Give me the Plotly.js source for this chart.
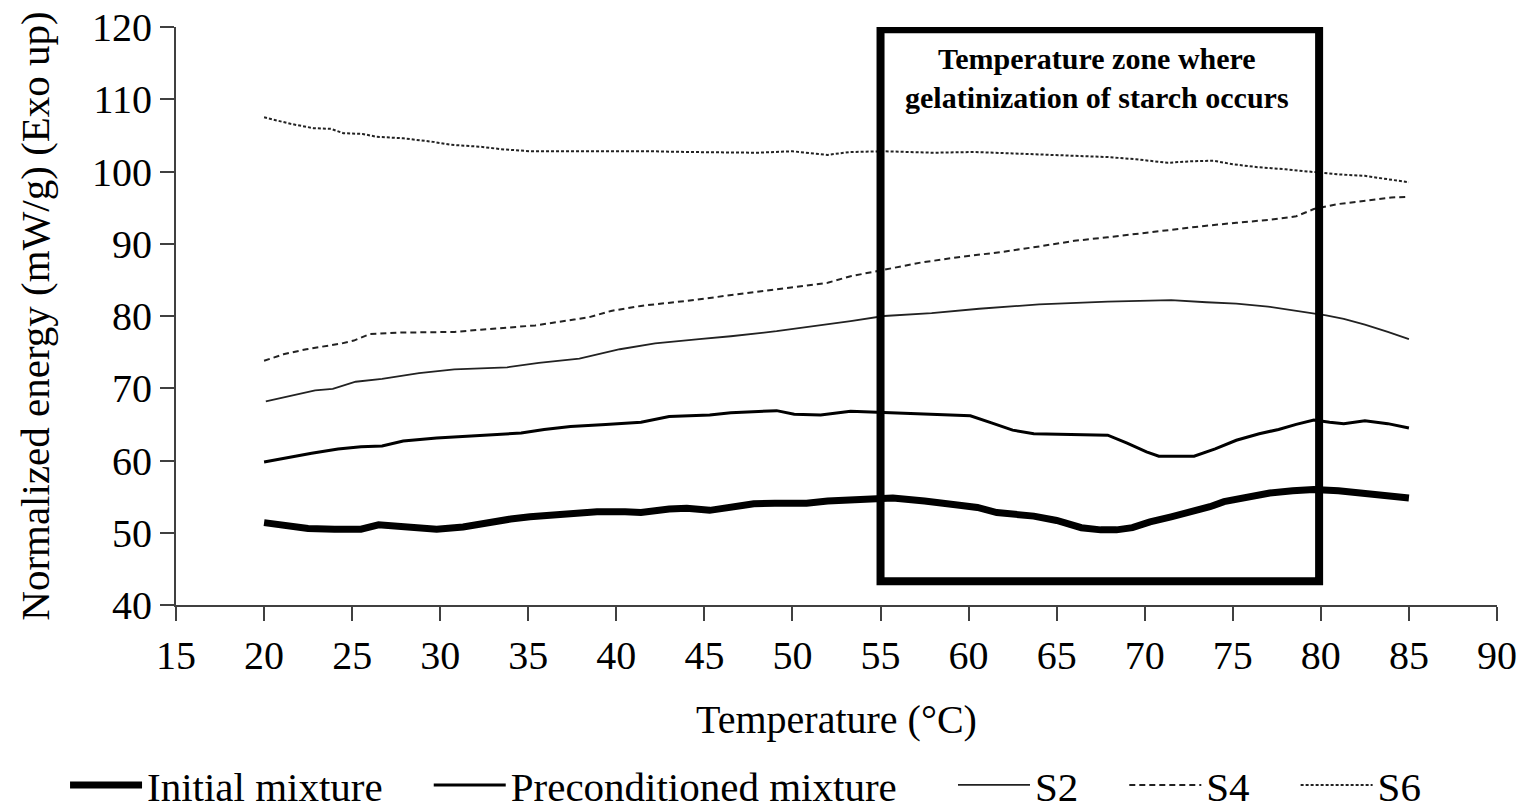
<!DOCTYPE html>
<html>
<head>
<meta charset="utf-8">
<script src="https://cdn.plot.ly/plotly-3.0.1.min.js"></script>
<style>html,body{margin:0;padding:0;background:#fff;}#chart{width:1522px;height:809px;}</style>
</head>
<body>
<div id="chart"></div>
<script>
// ---- Data ----
const initialT = [20,21,22.5,24,25.5,26.5,27.7,29,29.8,31.3,32.8,34,35.1,36.9,38.9,40.5,41.4,43,44,45.3,46.5,47.8,49,50.8,52,53.3,55.7,57.5,59.3,60.5,61.6,63.7,65,66.4,67.5,68.4,69.3,70.3,71.5,72.8,73.7,74.5,75.8,77.1,78.4,79.6,81,82,83.5,85];
const initialE = [51.4,51.0,50.6,50.5,50.5,51.1,50.8,50.5,50.5,50.8,51.5,51.9,52.2,52.6,52.9,52.9,52.8,53.3,53.4,53.1,53.6,54.0,54.1,54.1,54.4,54.6,54.8,54.4,53.8,53.5,52.8,52.3,51.7,50.7,50.4,50.4,50.7,51.5,52.2,52.9,53.6,54.3,55.0,55.5,55.8,56.0,55.8,55.6,55.2,54.8];

const precondT = [20,21.1,22.7,24.2,25.5,26.7,27.9,29.8,31.3,32.8,34.6,35.9,37.4,39.4,41.4,43,45.3,46.5,48,49.1,50.1,51.6,53.3,55.7,57,59.3,60.1,61.3,62.5,63.7,65.5,67.9,69,70.1,70.8,72.8,74,75.2,76.5,77.6,78.6,79.6,80.5,81.3,82.5,83.8,85];
const precondE = [59.8,60.3,61.0,61.6,61.9,62.0,62.7,63.1,63.3,63.5,63.8,64.3,64.7,65.0,65.3,66.1,66.3,66.6,66.8,66.9,66.4,66.3,66.8,66.6,66.4,66.3,66.2,65.2,64.2,63.7,63.6,63.5,62.4,61.2,60.6,60.6,61.6,62.8,63.7,64.3,65.0,65.6,65.3,65.1,65.5,65.1,64.5];

const s2T = [20.1,21.1,22.9,23.9,25.2,26.7,28.8,30.8,32.3,33.8,35.6,37.9,40.2,42.2,44.7,46.5,49.1,51.6,53.3,55.2,57.9,60.6,64,67.9,71.5,73.5,75.2,77,78.9,80.3,81.3,82.5,83.8,85];
const s2E = [68.2,68.7,69.7,69.9,70.9,71.3,72.1,72.6,72.7,72.9,73.5,74.1,75.4,76.2,76.8,77.2,77.9,78.7,79.3,80.0,80.4,81.0,81.6,82.0,82.2,81.9,81.7,81.3,80.6,80.1,79.6,78.8,77.8,76.8];

const s4T = [20,21.1,22.4,24.4,25.1,26,27.7,30.8,32.3,35.4,37.6,38.4,39.7,41.4,44,46,48,50,52,53.3,55.2,57.3,59.3,62,64.2,66,67.9,70,71.5,73.5,75.2,77,78.6,79.6,81,82.5,84,85];
const s4E = [73.8,74.7,75.4,76.2,76.6,77.5,77.7,77.8,78.1,78.7,79.5,79.8,80.7,81.4,82.1,82.7,83.3,83.9,84.6,85.5,86.4,87.4,88.1,88.9,89.7,90.4,90.9,91.5,92.0,92.5,92.9,93.3,93.8,94.8,95.5,96.0,96.4,96.5];

const s6T = [20,21.5,22.8,23.8,24.5,25.6,26.4,27.9,29.6,30.6,32.4,33.4,35.1,37.5,40,42,44,46,48,50,52,53.3,55.2,58,60.3,62.5,64.5,66.5,67.9,69.5,71.3,72.5,73.9,75,76.4,78,79.6,81,82.5,84,85];
const s6E = [107.5,106.6,106.0,105.9,105.3,105.2,104.8,104.6,104.1,103.7,103.4,103.1,102.8,102.8,102.9,102.8,102.7,102.7,102.6,102.8,102.3,102.7,102.8,102.6,102.7,102.5,102.3,102.1,102.0,101.7,101.2,101.4,101.5,101.0,100.6,100.3,99.9,99.6,99.4,98.9,98.5];

const seriesNames = ["Initial mixture","Preconditioned mixture","S2","S4","S6"];
const xTickVals = [15,20,25,30,35,40,45,50,55,60,65,70,75,80,85,90];
const yTickVals = [40,50,60,70,80,90,100,110,120];

// Highlighted gelatinization zone (box) and its label
const zoneX = [55, 79.9];
const zoneY = [43.3, 119.7];
const zoneLabel = "Temperature zone where<br>gelatinization of starch occurs";

// ---- Chart ----
const serif = "Liberation Serif, Times New Roman, serif";
const pad4 = "\u00a0\u00a0\u00a0\u00a0";
const pad5 = "\u00a0\u00a0\u00a0\u00a0\u00a0";

const traces = [
  {x: initialT, y: initialE, name: seriesNames[0] + pad4, mode: "lines", line: {color: "#000", width: 7}},
  {x: precondT, y: precondE, name: seriesNames[1] + pad5, mode: "lines", line: {color: "#000", width: 3}},
  {x: s2T, y: s2E, name: seriesNames[2] + pad4, mode: "lines", line: {color: "#222", width: 1.8}},
  {x: s4T, y: s4E, name: seriesNames[3] + pad4, mode: "lines", line: {color: "#222", width: 2, dash: "6px,4px"}},
  {x: s6T, y: s6E, name: seriesNames[4], mode: "lines", line: {color: "#222", width: 2, dash: "3px,2px"}}
];

const layout = {
  width: 1522, height: 809,
  margin: {l: 176, r: 25, t: 27, b: 204, autoexpand: false},
  paper_bgcolor: "#fff", plot_bgcolor: "#fff",
  font: {family: serif, color: "#000", size: 40},
  showlegend: true,
  legend: {
    orientation: "h", x: -0.084, xanchor: "left", y: -0.254, yanchor: "top",
    font: {family: serif, size: 41, color: "#000"},
    itemwidth: 72, bgcolor: "rgba(0,0,0,0)"
  },
  xaxis: {
    range: [15, 90], tickvals: xTickVals, ticktext: xTickVals.map(String),
    showgrid: false, zeroline: false, showline: true, linecolor: "#404040", linewidth: 2,
    ticks: "outside", ticklen: 14, tickwidth: 2, tickcolor: "#404040",
    tickfont: {family: serif, size: 40, color: "#000"},
    title: {text: "Temperature (°C)", font: {family: serif, size: 40, color: "#000"}, standoff: 28},
    fixedrange: true
  },
  yaxis: {
    range: [40, 120], tickvals: yTickVals, ticktext: yTickVals.map(String),
    showgrid: false, zeroline: false, showline: true, linecolor: "#404040", linewidth: 2,
    ticks: "outside", ticklen: 14, tickwidth: 2, tickcolor: "#404040",
    tickfont: {family: serif, size: 40, color: "#000"},
    title: {text: "Normalized energy (mW/g) (Exo up)", font: {family: serif, size: 41, color: "#000"}, standoff: 30},
    fixedrange: true
  },
  shapes: [{
    type: "rect", xref: "x", yref: "y",
    x0: zoneX[0], x1: zoneX[1], y0: zoneY[0], y1: zoneY[1],
    line: {color: "#000", width: 8}, fillcolor: "rgba(0,0,0,0)", layer: "above"
  }],
  annotations: [{
    xref: "x", yref: "y", x: 67.3, y: 112.9,
    text: "<b>" + zoneLabel + "</b>", showarrow: false,
    font: {family: serif, size: 30, color: "#000"}, align: "center"
  }]
};

Plotly.newPlot("chart", traces, layout, {displayModeBar: false, staticPlot: true});
</script>
</body>
</html>
